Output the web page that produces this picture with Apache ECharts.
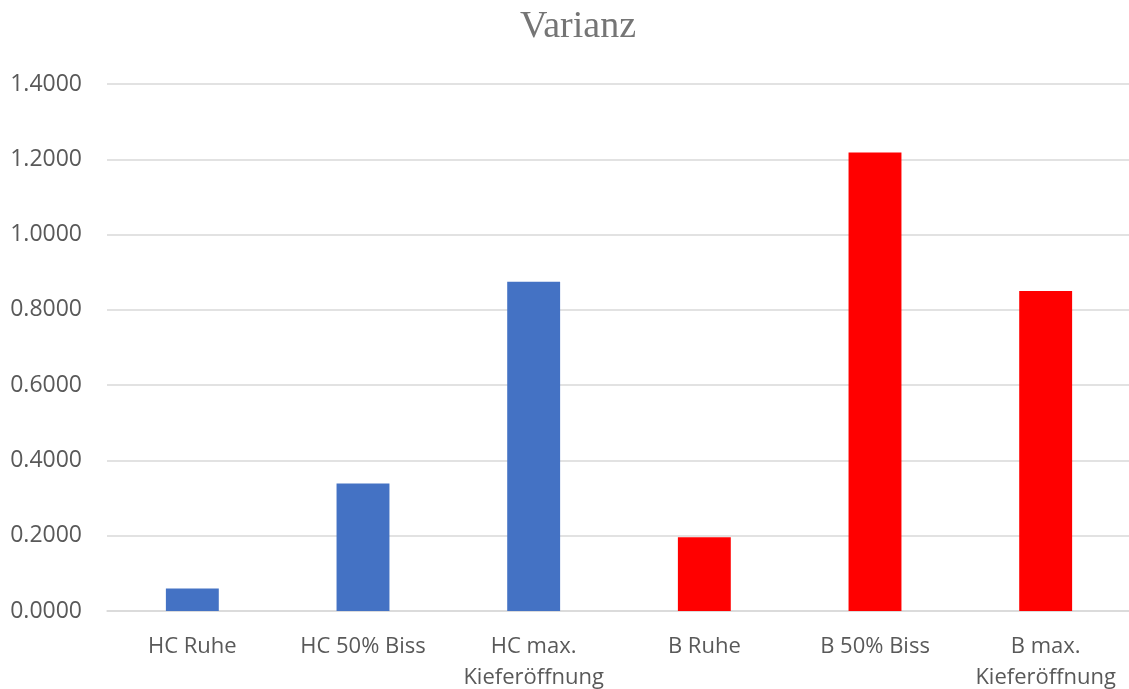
<!DOCTYPE html>
<html>
<head>
<meta charset="utf-8">
<script src="https://cdn.jsdelivr.net/npm/echarts@6/dist/echarts.min.js"></script>
<style>
  html, body { margin: 0; padding: 0; background: #fff; }
  #chart { width: 1129px; height: 689px; }
</style>
</head>
<body>
<div id="chart"></div>
<script>
// Varianz je Messbedingung
const categories = ['HC Ruhe', 'HC 50% Biss', 'HC max.\nKieferöffnung', 'B Ruhe', 'B 50% Biss', 'B max.\nKieferöffnung'];
const varianz = [0.060, 0.339, 0.875, 0.196, 1.218, 0.850];
const barColors = ['#4472C4', '#4472C4', '#4472C4', '#FF0000', '#FF0000', '#FF0000'];

const chart = echarts.init(document.getElementById('chart'), null, { renderer: 'canvas' });
chart.setOption({
  animation: false,
  backgroundColor: '#ffffff',
  title: {
    text: 'Varianz',
    left: 515,
    top: 3,
    textStyle: { fontFamily: 'Liberation Serif', fontWeight: 'normal', fontSize: 38, color: '#757575' }
  },
  grid: { left: 107, top: 84, width: 1024, bottom: 78, outerBoundsMode: 'none', containLabel: false },
  xAxis: {
    type: 'category',
    data: categories,
    axisLine: { lineStyle: { color: '#d9d9d9', width: 1.5 } },
    axisTick: { show: false },
    axisLabel: {
      color: '#595959', fontFamily: 'Open Sans', fontSize: 22, margin: 20, lineHeight: 31, interval: 0
    }
  },
  yAxis: {
    type: 'value',
    min: 0, max: 1.4, interval: 0.2,
    axisLine: { show: false },
    axisTick: { show: false },
    splitLine: { lineStyle: { color: '#d9d9d9', width: 1.5 } },
    axisLabel: {
      color: '#595959', fontFamily: 'Open Sans', fontSize: 23, margin: 25,
      formatter: v => v.toFixed(4)
    }
  },
  series: [{
    type: 'bar',
    data: varianz.map((v, i) => ({ value: v, itemStyle: { color: barColors[i] } })),
    barWidth: '31%'
  }]
});
</script>
</body>
</html>
